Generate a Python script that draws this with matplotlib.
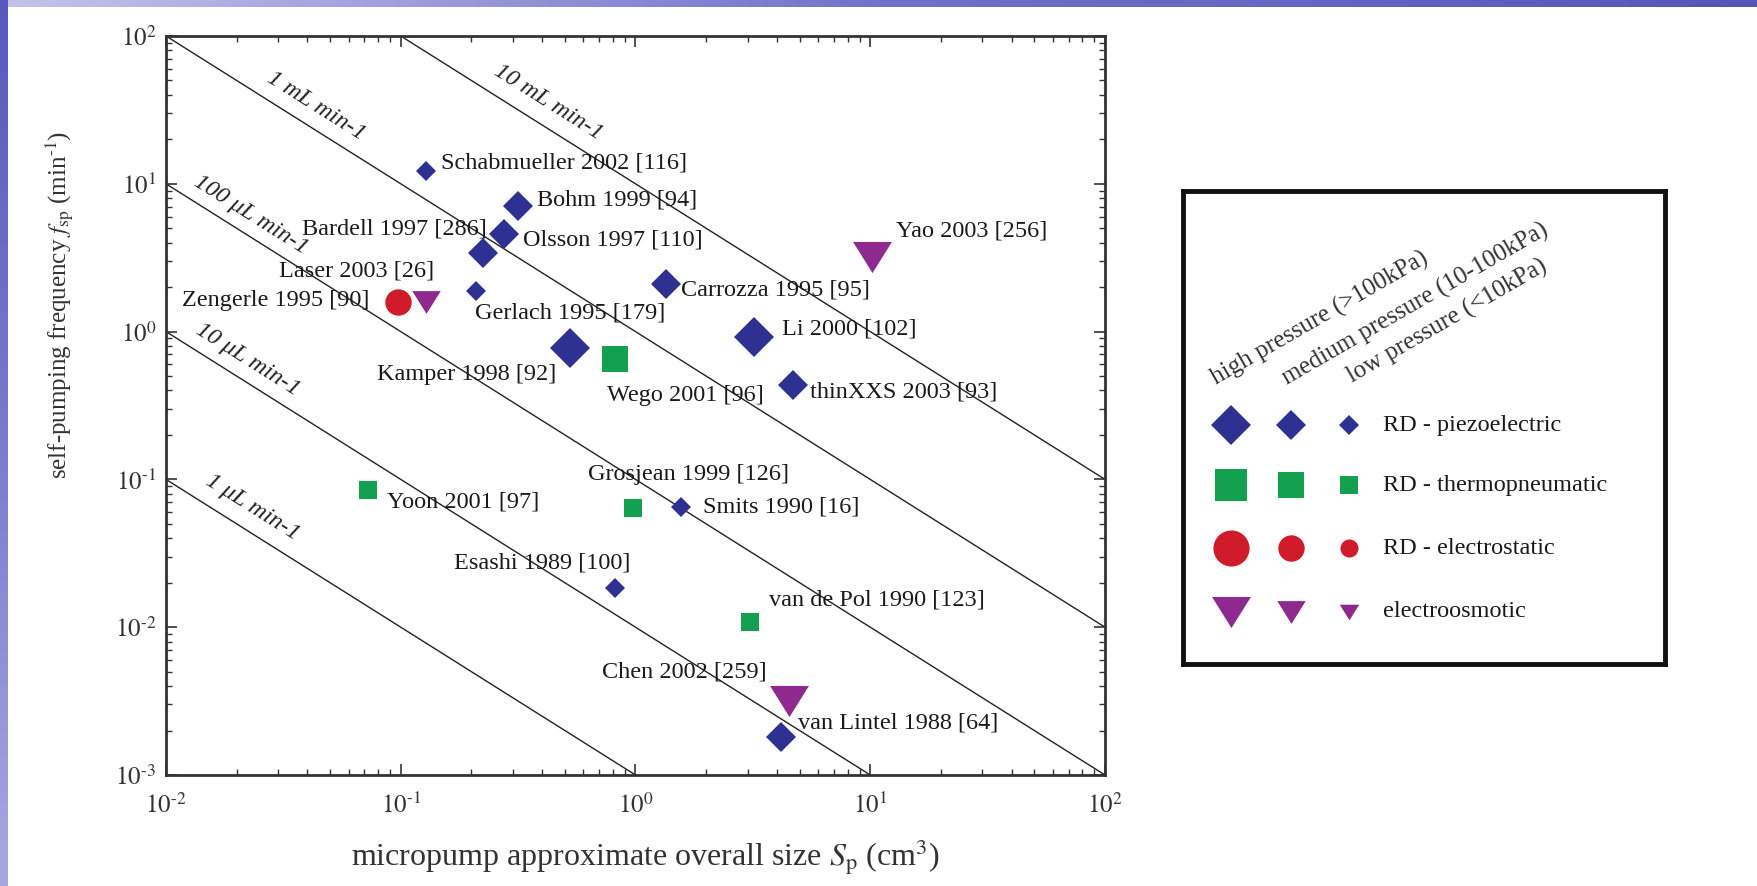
import matplotlib
matplotlib.use('Agg')
import matplotlib.pyplot as plt
from matplotlib.ticker import FuncFormatter
import numpy as np

plt.rcParams['font.family'] = ['Liberation Serif', 'DejaVu Serif']
plt.rcParams['mathtext.fontset'] = 'stix'
plt.rcParams['axes.unicode_minus'] = False

# ---------------- data ----------------
names = ['Schabmueller 2002 [116]', 'Bohm 1999 [94]', 'Olsson 1997 [110]', 'Bardell 1997 [286]',
         'Carrozza 1995 [95]', 'Gerlach 1995 [179]', 'Zengerle 1995 [90]', 'Laser 2003 [26]',
         'Kamper 1998 [92]', 'Wego 2001 [96]', 'Li 2000 [102]', 'Yao 2003 [256]',
         'thinXXS 2003 [93]', 'Yoon 2001 [97]', 'Grosjean 1999 [126]', 'Smits 1990 [16]',
         'Esashi 1989 [100]', 'van de Pol 1990 [123]', 'Chen 2002 [259]', 'van Lintel 1988 [64]']
size_cm3 = [0.128, 0.316, 0.275, 0.224, 1.35, 0.209, 0.097, 0.128, 0.526, 0.818,
            3.20, 10.2, 4.69, 0.0725, 0.975, 1.56, 0.818, 3.07, 4.51, 4.17]
freq_min = [12.2, 7.08, 4.57, 3.40, 2.10, 1.88, 1.585, 1.585, 0.774, 0.653,
            0.918, 3.20, 0.435, 0.0848, 0.0641, 0.065, 0.0184, 0.0108, 0.00317, 0.00181]
# actuation type and pressure class (0 high, 1 medium, 2 low)
kind = ['piezo', 'piezo', 'piezo', 'piezo', 'piezo', 'piezo', 'estat', 'eo',
        'piezo', 'thermo', 'piezo', 'eo', 'piezo', 'thermo', 'thermo', 'piezo',
        'piezo', 'thermo', 'eo', 'piezo']
pressure = [2, 1, 1, 1, 1, 2, 1, 1, 0, 1, 0, 0, 1, 2, 2, 2, 2, 2, 0, 1]

flow_rates = [0.001, 0.01, 0.1, 1.0, 10.0]   # cm3/min
flow_labels = ['1 μL min-1', '10 μL min-1', '100 μL min-1', '1 mL min-1', '10 mL min-1']

kinds = ['piezo', 'thermo', 'estat', 'eo']
kind_labels = ['RD - piezoelectric', 'RD - thermopneumatic', 'RD - electrostatic', 'electroosmotic']
pressure_labels = ['high pressure (>100kPa)', 'medium pressure (10-100kPa)', 'low pressure (<10kPa)']

# ---------------- styles ----------------
tri = [(-1, 0.8), (1, 0.8), (0, -0.8), (-1, 0.8)]
marker = {'piezo': 'D', 'thermo': 's', 'estat': 'o', 'eo': tri}
color = {'piezo': '#2e3092', 'thermo': '#13a150', 'estat': '#d01c2a', 'eo': '#8e2a8e'}
msize = {'piezo': [20, 15, 10.5], 'thermo': [23, 19, 13], 'estat': [26, 19, 13], 'eo': [28, 20.5, 14]}

# label placement (offset points from marker, alignment)
label_off = [(11, 6, 'left'), (14, 4, 'left'), (14, -4, 'left'), (3, 17, 'right'),
             (11, -4, 'left'), (-1, -16, 'left'), (-20, 1, 'right'), (6, 22, 'right'),
             (-10, -19, 'right'), (-6, -26, 'left'), (20, 6, 'left'), (17, 19, 'left'),
             (12, -5, 'left'), (14, -9, 'left'), (-32, 24, 'left'), (16, 0, 'left'),
             (11, 18, 'right'), (14, 16, 'left'), (-16, 21, 'right'), (12, 10, 'left')]
flow_label_pos = [(0.0233, 0.065), (0.0223, 0.643), (0.0230, 6.15), (0.0435, 33.6), (0.424, 35.7)]


def decade(v, pos):
    e = int(round(np.log10(v)))
    if e < 0:
        return r'$10^{\text{-}%d}$' % (-e)
    return r'$10^{%d}$' % e


W, H = 1758, 886
fig = plt.figure(figsize=(W / 100, H / 100), dpi=100)
fig.patch.set_facecolor('white')

# slide decoration stripes
top = fig.add_axes([0, 1 - 7 / H, 1, 7 / H])
top.imshow(np.linspace(0, 1, 256)[None, :], aspect='auto',
           cmap=matplotlib.colors.LinearSegmentedColormap.from_list('t', ['#c4c4ea', '#7272cc', '#5656b8']))
top.axis('off')
left = fig.add_axes([0, 0, 8 / W, 1])
left.imshow(np.linspace(0, 1, 256)[:, None], aspect='auto',
            cmap=matplotlib.colors.LinearSegmentedColormap.from_list('l', ['#5858bc', '#7a7ad0', '#a8a8e0']))
left.axis('off')

# main plot
ax = fig.add_axes([166 / W, 1 - 775 / H, 939 / W, 739 / H])
ax.set_xscale('log')
ax.set_yscale('log')
ax.set_xlim(1e-2, 1e2)
ax.set_ylim(1e-3, 1e2)
ax.xaxis.set_major_formatter(FuncFormatter(decade))
ax.yaxis.set_major_formatter(FuncFormatter(decade))

s_line = np.logspace(-2, 2, 200)
for q in flow_rates:
    ax.plot(s_line, q / s_line, color='#222222', lw=1.0)

p1 = ax.transData.transform((1e-2, 1.0))
p2 = ax.transData.transform((1e-1, 0.1))
ang = np.degrees(np.arctan2(p2[1] - p1[1], p2[0] - p1[0]))
for lab, (lx, ly) in zip(flow_labels, flow_label_pos):
    ax.text(lx, ly, lab, rotation=ang, rotation_mode='anchor', ha='center', va='center',
            fontsize=17.5, style='italic', color='#222222')

for i, n in enumerate(names):
    k = kind[i]
    ax.plot(size_cm3[i], freq_min[i], linestyle='none', marker=marker[k], color=color[k],
            markersize=msize[k][pressure[i]], markeredgewidth=0)
    dx, dy, ha = label_off[i]
    ax.annotate(n, (size_cm3[i], freq_min[i]), xytext=(dx, dy), textcoords='offset points',
                ha=ha, va='center', fontsize=17.5, color='#1a1a1a')

ax.tick_params(which='both', direction='in', top=True, right=True, colors='#333333',
               labelsize=18, labelcolor='#333333')
ax.tick_params(which='major', length=8, width=1.2)
ax.tick_params(which='minor', length=4.5, width=1.0)
ax.tick_params(axis='x', which='major', pad=13)
ax.tick_params(axis='y', which='major', pad=7)
for sp in ax.spines.values():
    sp.set_linewidth(2.0)
    sp.set_color('#333333')

fig.text(60 / W, 1 - 305 / H, r'self-pumping frequency $f_{\rm sp}$ (min$^{\text{-}1}$)', rotation=90,
         ha='center', va='center', fontsize=18, color='#333333')
fig.text(645 / W, 1 - 857 / H, r'micropump approximate overall size $S_{\rm p}$ (cm$^3$)',
         ha='center', va='center', fontsize=23, color='#333333')

# legend box
lg = fig.add_axes([1183 / W, 1 - 664 / H, 482 / W, 473 / H])
lg.set_xlim(0, 1)
lg.set_ylim(0, 1)
lg.set_xticks([])
lg.set_yticks([])
for sp in lg.spines.values():
    sp.set_linewidth(3.5)
    sp.set_color('#111111')
col_x = [0.0996, 0.224, 0.344]
row_y = [0.505, 0.378, 0.245, 0.110]
for r, k in enumerate(kinds):
    for c in range(3):
        lg.plot(col_x[c], row_y[r], linestyle='none', marker=marker[k], color=color[k],
                markersize=msize[k][c], markeredgewidth=0)
    lg.text(0.415, row_y[r], kind_labels[r], ha='left', va='center', fontsize=17.5, color='#1a1a1a')
head_x = [0.0747, 0.222, 0.357]
head_y = [0.579, 0.579, 0.583]
for c in range(3):
    lg.text(head_x[c], head_y[c], pressure_labels[c], rotation=30, rotation_mode='anchor',
            ha='left', va='bottom', fontsize=18, color='#333333')

fig.savefig('out.png', dpi=100)
